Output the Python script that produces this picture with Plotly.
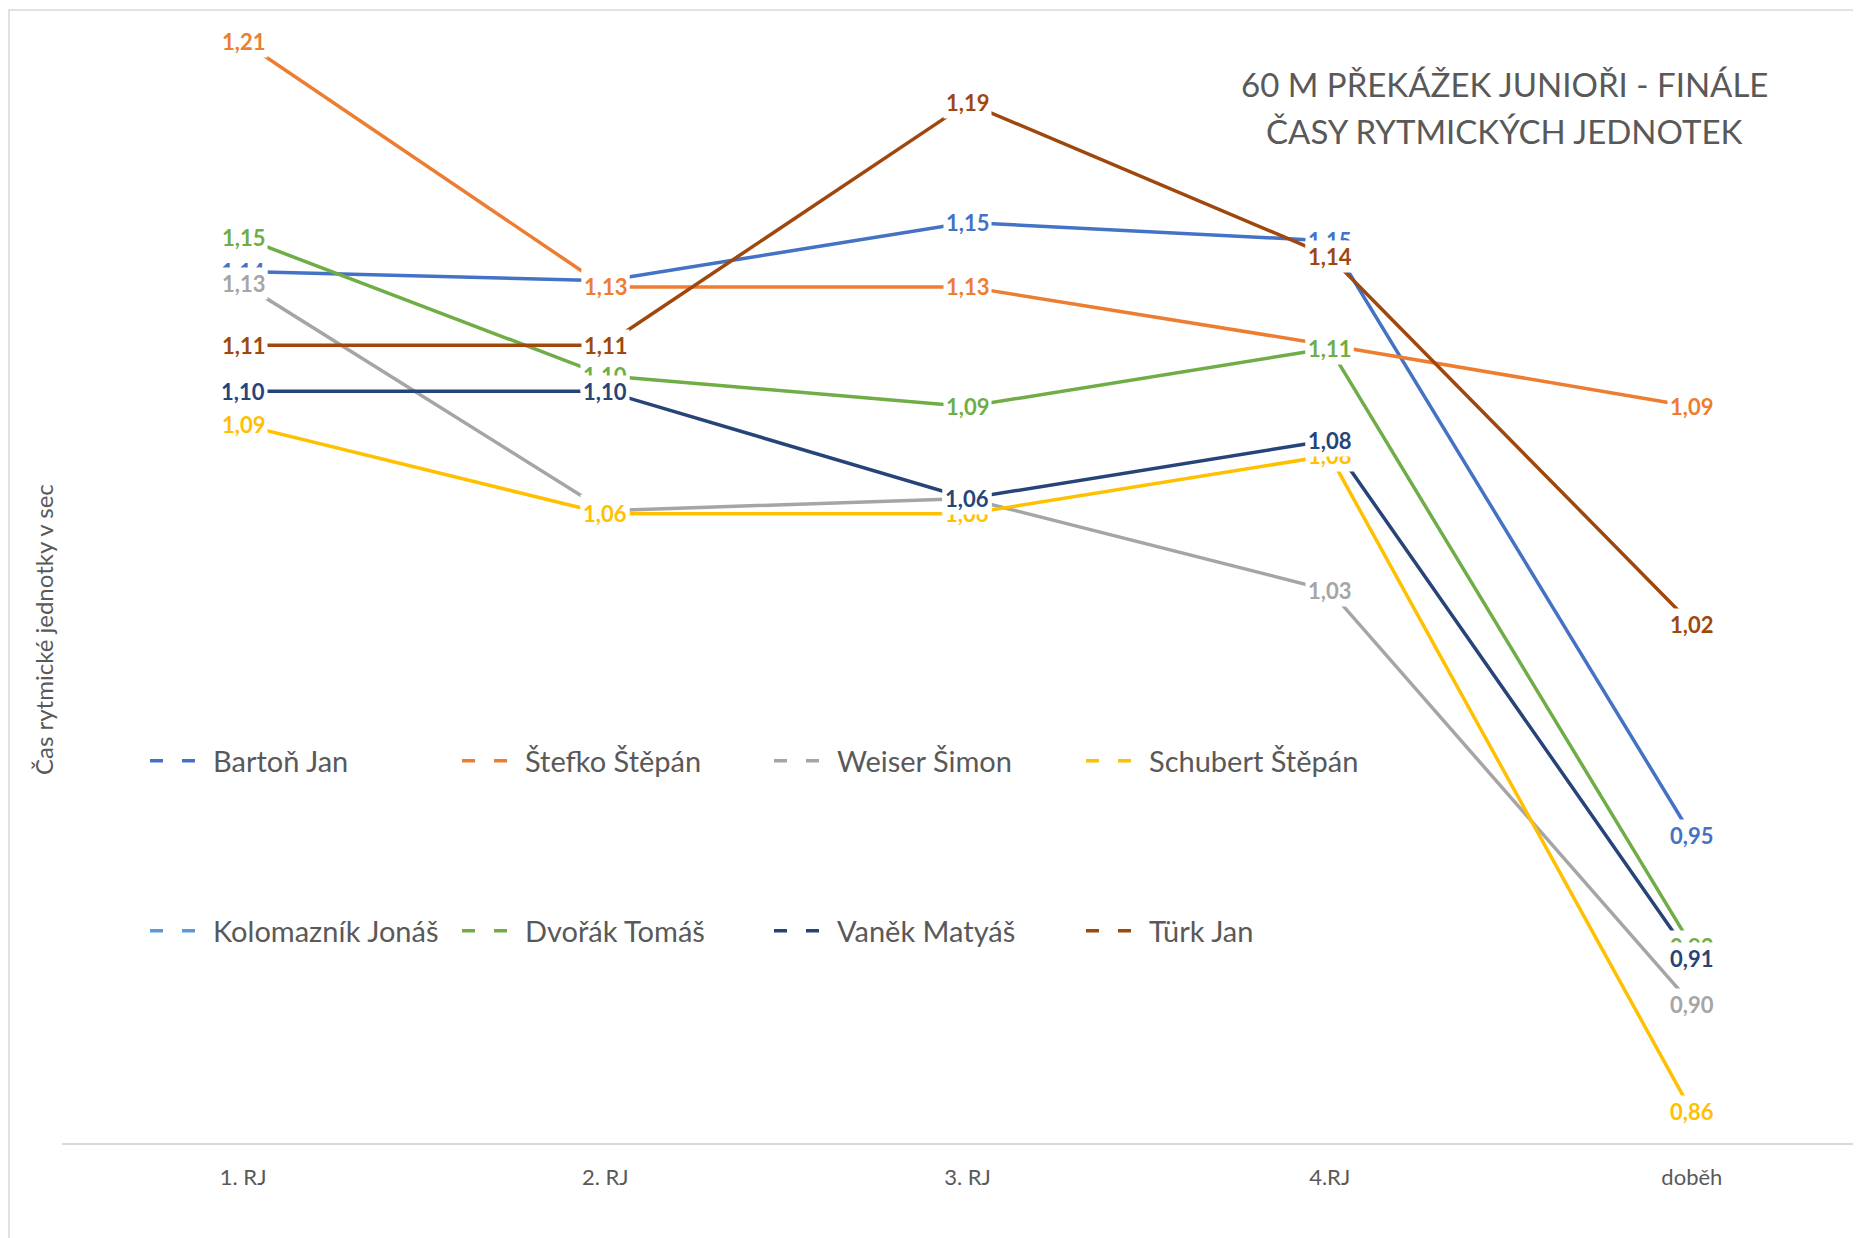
import plotly.graph_objects as go

# categories (rhythm units)
categories = ["1. RJ", "2. RJ", "3. RJ", "4.RJ", "doběh"]

# runners, in chart order
runners = ["Bartoň Jan", "Štefko Štěpán", "Weiser Šimon", "Schubert Štěpán",
           "Kolomazník Jonáš", "Dvořák Tomáš", "Vaněk Matyáš", "Türk Jan"]

# times per rhythm unit (s)
barton = [1.137, 1.134, 1.153, 1.147, 0.953]
stefko = [1.212, 1.132, 1.132, 1.113, 1.093]
weiser = [1.133, 1.059, 1.063, 1.033, 0.898]
schubert = [1.087, 1.058, 1.058, 1.077, 0.863]
kolomaznik = [None, None, None, None, None]
dvorak = [1.148, 1.103, 1.093, 1.112, 0.917]
vanek = [1.098, 1.098, 1.063, 1.082, 0.913]
turk = [1.113, 1.113, 1.192, 1.142, 1.022]

series = [barton, stefko, weiser, schubert, kolomaznik, dvorak, vanek, turk]
colors = ["#4472C4", "#ED7D31", "#A5A5A5", "#FFC000",
          "#5B9BD5", "#70AD47", "#264478", "#9E480E"]

title_lines = ["60 M PŘEKÁŽEK JUNIOŘI - FINÁLE", "ČASY RYTMICKÝCH JEDNOTEK"]
ytitle = "Čas rytmické jednotky v sec"

FONT = "Lato"
GREY = "#595959"

# the page puts the figure 8px in from the top-left corner
OFF = 8
W, H = 1861 - OFF, 1238 - OFF
ML, MR, MT, MB = 62 - OFF, 0, 10 - OFF, 95

fig = go.Figure()

# data lines
for name, vals, col in zip(runners, series, colors):
    fig.add_trace(go.Scatter(
        x=categories, y=vals, mode="lines", name=name,
        line=dict(color=col, width=3.5), showlegend=False,
        hoverinfo="skip",
    ))

# legend entries (dashed symbol like the original), two rows of four
for i, (name, col) in enumerate(zip(runners, colors)):
    fig.add_trace(go.Scatter(
        x=[None], y=[None], mode="lines", name=name,
        line=dict(color=col, width=3.5, dash="13px,19px"),
        legend="legend" if i < 4 else "legend2",
    ))

# data labels with white boxes (later series on top)
annotations = []
for vals, col in zip(series, colors):
    for cat, v in zip(categories, vals):
        if v is None:
            continue
        annotations.append(dict(
            x=cat, y=v, xref="x", yref="y", showarrow=False,
            text=f"{v:.2f}".replace(".", ","),
            font=dict(family=FONT, size=22, color=col, weight="bold"),
            bgcolor="white", borderpad=2,
        ))

plot_w = W - ML - MR
plot_h = H - MT - MB


# helpers: screen pixel -> paper coords
def px_x(p):
    return (p - OFF - ML) / plot_w


def px_y(p):
    return (1238 - MB - p) / plot_h


for line, ypix in zip(title_lines, [84, 131]):
    annotations.append(dict(
        x=px_x(1504), y=px_y(ypix), xref="paper", yref="paper", showarrow=False,
        text=line, xanchor="center", yanchor="middle",
        font=dict(family=FONT, size=33, color=GREY),
    ))
annotations.append(dict(
    x=px_x(44), y=px_y(630), xref="paper", yref="paper", showarrow=False,
    text=ytitle, textangle=-90, xanchor="center", yanchor="middle",
    font=dict(family=FONT, size=24, color=GREY),
))

legend_style = dict(orientation="h", xanchor="left", yanchor="middle",
                    itemwidth=58, entrywidth=239, entrywidthmode="pixels",
                    bgcolor="rgba(0,0,0,0)",
                    font=dict(family=FONT, size=29, color=GREY))

fig.update_layout(
    width=W, height=H,
    margin=dict(l=ML, r=MR, t=MT, b=MB),
    paper_bgcolor="white", plot_bgcolor="white",
    font=dict(family=FONT, color=GREY),
    annotations=annotations,
    shapes=[dict(type="rect", xref="paper", yref="paper",
                 x0=px_x(9), x1=px_x(1900), y0=px_y(1300), y1=px_y(10),
                 line=dict(color="#D9D9D9", width=1.5), fillcolor="rgba(0,0,0,0)",
                 layer="below")],
    legend=dict(x=px_x(145), y=px_y(761), **legend_style),
    legend2=dict(x=px_x(145), y=px_y(931), **legend_style),
)

fig.update_xaxes(
    type="category", range=[-0.5, 4.467],
    showgrid=False, zeroline=False, ticks="",
    showline=True, linecolor="#D9D9D9", linewidth=1.5,
    tickfont=dict(family=FONT, size=22, color=GREY),
    ticklabelstandoff=14,
)
fig.update_yaxes(
    range=[0.8528, 1.2223], showgrid=False, zeroline=False,
    showticklabels=False, ticks="", showline=False,
)

fig.write_html("out.html")
